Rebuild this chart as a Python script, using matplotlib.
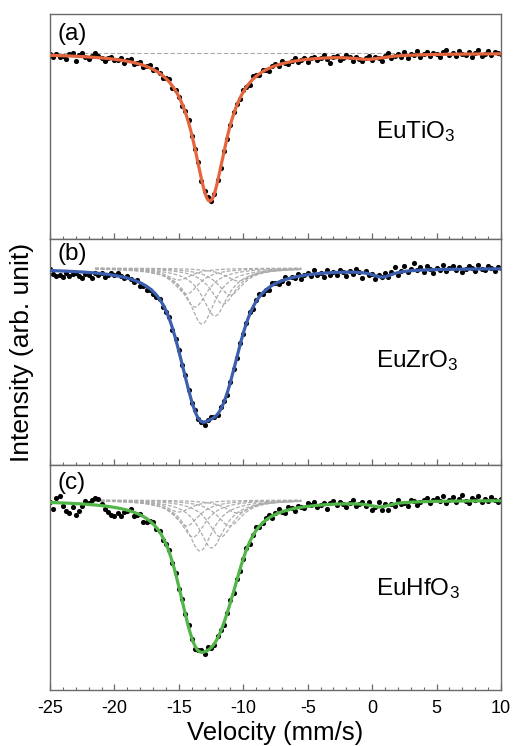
from matplotlib import pyplot as plt
import matplotlib as mpl
import numpy as np

# Velocity channels (mm/s)
velocity = np.linspace(-25, 10, 141)

# Lorentzian fit parameters:
# centre (mm/s), half width (mm/s), depth (relative to baseline = 1)
ti_centers = [-12.6, -0.3]
ti_hwhm = [1.55, 1.5]
ti_depths = [0.148, 0.004]

zr_centers = [-15.0, -14.4, -13.75, -13.2, -12.2, -11.55, -11.0, -10.4, 0.8]
zr_hwhm = [1.2, 1.2, 1.2, 1.2, 1.2, 1.2, 1.2, 1.2, 1.0]
zr_depths = [0.012, 0.026, 0.039, 0.056, 0.048, 0.036, 0.027, 0.013, 0.007]

hf_centers = [-15.0, -14.4, -13.9, -13.35, -12.45, -11.75, -11.05, -10.45, 0.6]
hf_hwhm = [1.2, 1.2, 1.2, 1.2, 1.2, 1.2, 1.2, 1.2, 1.0]
hf_depths = [0.012, 0.026, 0.037, 0.051, 0.048, 0.037, 0.026, 0.013, 0.005]

# Scatter of the measured points around the fit (units of 1e-3)
ti_resid = [1, -2, 2, -1, 0, -3, 2, 3, -5, 1, 4, 0, -2, 1, 4, 2, 0, -3, 1, 2,
            -1, 0, 2, -2, 1, 3, -1, 0, 2, -2, 1, 3, -1, 2, 0, -2, 1, 3, -2, 1,
            0, -2, 1, 2, -1, 0, 2, -2, 1, 3, -1, 0, 2, -1, 1, -2, 0, 2, 1, -1,
            2, 0, -2, 3, 1, -1, 2, 0, -3, 1, 2, -1, 3, 0, -2, 1, 3, -1, 0, 2,
            -3, 1, 2, -2, 0, 3, -1, -5, 1, 2, -2, 0, 3, 1, -3, 2, 0, -2, 1, 3,
            -1, 2, 0, -3, 1, 4, -2, 0, 2, -1, 3, -3, 1, 0, 4, -2, 1, 3, -1, 2,
            0, -3, 2, 4, -1, 1, -2, 3, 0, -1, 2, -3, 1, 4, -2, 0, 3, -1, 2, 1,
            0]
zr_resid = [2, -3, -5, -4, -6, -2, -5, -3, -1, -4, -6, -2, -3, -5, 0, -2, 1, -3, -1, 2,
            0, 3, 1, -1, 2, 0, -2, 1, -3, -2, -4, -1, -3, -2, 0, -3, -1, 1, -2, 0,
            1, -1, 2, 0, -2, 1, -1, 0, -3, 1, 2, 0, -1, 2, 1, -2, 0, 1, -1, 2,
            -1, 0, 2, -2, 1, 3, -1, 0, -3, 2, 1, -2, 0, 3, -4, 1, -1, 2, -3, 0,
            2, -2, 4, -1, 0, -4, 3, -2, 1, -3, 2, 0, -4, 1, -2, 3, 0, -5, 2, -1,
            1, -3, 2, 0, 4, -1, 3, 6, -2, 1, 5, -1, 2, 7, 0, 3, -2, 4, 1, -3,
            2, 0, 4, -2, 1, 3, -1, 2, -3, 0, 3, 1, -2, 4, 0, -1, 3, 1, -2, 2,
            1]
hf_resid = [0, -6, 5, 7, -3, -8, -10, -4, -11, -7, -2, 3, 1, 5, 7, 6, 2, -3, -6, -8,
            -9, -5, -7, -3, -1, 2, -4, -2, 1, -5, -3, 0, 2, -2, 1, -3, 0, 2, -1, 1,
            -2, 1, 0, 2, -1, -3, 1, 2, -2, 3, 0, -1, 2, 1, -2, 0, 3, -1, 1, -2,
            0, 2, -2, 1, 3, -1, 0, 2, 3, -2, 1, 4, 0, -2, 3, 1, -3, 2, 0, -1,
            3, 1, 4, -2, 0, 2, -4, 1, 3, -1, 2, 0, -3, 1, 4, -2, 0, 2, -1, 3,
            -4, 0, 5, -3, 2, -5, 1, -2, 3, -1, 0, -4, 2, 1, -3, 0, 2, 4, -1, 1,
            3, 0, 5, -2, 1, 4, -1, 2, 6, 0, -2, 3, 1, 5, -1, 2, 0, 4, 1, -1,
            2]

samples = ['EuTiO$_3$', 'EuZrO$_3$', 'EuHfO$_3$']
tags = ['(a)', '(b)', '(c)']
xticks = [-25, -20, -15, -10, -5, 0, 5, 10]

for r in (ti_resid, zr_resid, hf_resid):
    if len(r) != len(velocity):
        raise ValueError(len(r))


def lorentz(x, c, w, d):
    return d * w**2 / ((x - c)**2 + w**2)


def fit_curve(x, centers, widths, depths):
    y = np.ones_like(x)
    for c, w, d in zip(centers, widths, depths):
        y -= lorentz(x, c, w, d)
    return y


# Plot design
params = {
    'font.family': ['Liberation Sans', 'DejaVu Sans'],
    'mathtext.fontset': 'custom',
    'mathtext.rm': 'Liberation Sans',
    'mathtext.it': 'Liberation Sans:italic',
    'mathtext.default': 'rm',
    'axes.unicode_minus': False,
    'axes.edgecolor': '#6a6a6a',
    'axes.linewidth': 1.0,
    'xtick.color': '#6a6a6a',
    'xtick.labelcolor': 'black',
    'figure.figsize': [5.17, 7.46],
    'figure.dpi': 100,
}
mpl.rcParams.update(params)

fig = plt.figure()
panels = [
    dict(centers=ti_centers, widths=ti_hwhm, depths=ti_depths, resid=ti_resid,
         color='#e5663e', comps=False, ylim=(0.814, 1.039),
         rect=[0.0967, 0.6796, 0.8723, 0.3016], tag_y=0.91, txt_y=0.449),
    dict(centers=zr_centers, widths=zr_hwhm, depths=zr_depths, resid=zr_resid,
         color='#3b5fae', comps=True, ylim=(0.803, 1.029),
         rect=[0.0967, 0.3767, 0.8723, 0.3029], tag_y=0.933, txt_y=0.434),
    dict(centers=hf_centers, widths=hf_hwhm, depths=hf_depths, resid=hf_resid,
         color='#52b548', comps=True, ylim=(0.810, 1.035),
         rect=[0.0967, 0.0751, 0.8723, 0.3016], tag_y=0.92, txt_y=0.422),
]

vv = np.linspace(-25, 10, 701)
for k, p in enumerate(panels):
    ax = fig.add_axes(p['rect'])
    fit_dense = fit_curve(vv, p['centers'], p['widths'], p['depths'])
    points = fit_curve(velocity, p['centers'], p['widths'], p['depths']) \
        + np.array(p['resid']) * 1e-3

    if p['comps']:
        vc = vv[(vv >= -21.5) & (vv <= -5.5)]
        for c, w, d in zip(p['centers'][:-1], p['widths'][:-1], p['depths'][:-1]):
            ax.plot(vc, 1 - lorentz(vc, c, w, d), color='#acacac', lw=0.9,
                    ls=(0, (3, 1.5)), zorder=1)
    else:
        ax.axhline(1.0, color='#a8a8a8', lw=0.8, ls=(0, (4, 2)), zorder=1)

    ax.plot(velocity, points, 'o', color='black', ms=3.7, mew=0, zorder=2)
    ax.plot(vv, fit_dense, color=p['color'], lw=2.3, zorder=3)

    ax.set_xlim(-25, 10)
    ax.set_ylim(*p['ylim'])
    ax.set_yticks([])
    ax.set_xticks(xticks)
    ax.xaxis.set_minor_locator(mpl.ticker.MultipleLocator(1))
    ax.tick_params(axis='x', which='both', direction='in', top=False)
    ax.tick_params(axis='x', which='major', length=4, width=0.9, pad=7, labelsize=13)
    ax.tick_params(axis='x', which='minor', length=2.2, width=0.8)
    if k < 2:
        ax.tick_params(axis='x', labelbottom=False)

    ax.text(0.016, p['tag_y'], tags[k], transform=ax.transAxes,
            ha='left', va='center', fontsize=17.5)
    ax.text(0.722, p['txt_y'], samples[k], transform=ax.transAxes,
            ha='left', va='baseline', fontsize=17.5)

fig.text(0.0426, 0.528, 'Intensity (arb. unit)', rotation=90,
         ha='center', va='center', fontsize=19)
fig.text(0.533, 0.0075, 'Velocity (mm/s)', ha='center', va='baseline', fontsize=18.5)

fig.savefig('out.png', dpi=100)
